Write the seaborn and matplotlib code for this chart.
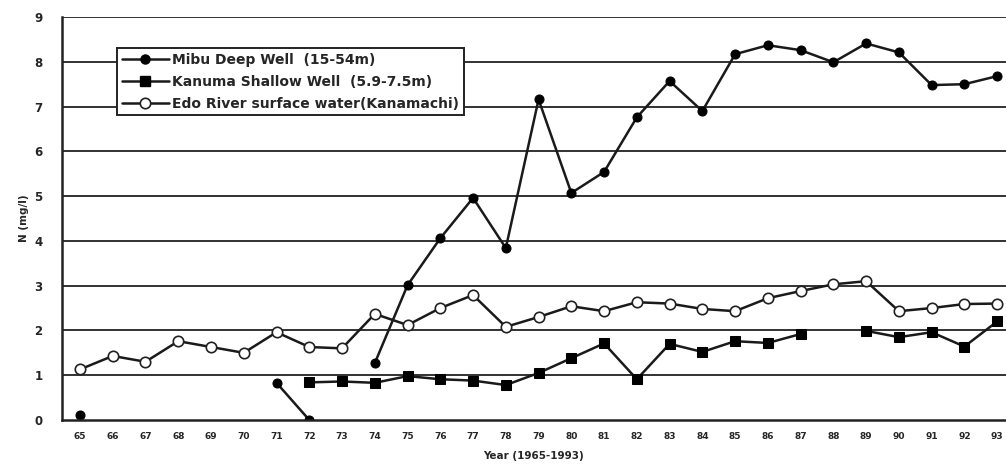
import numpy as np
import matplotlib
matplotlib.use("Agg")
import matplotlib.pyplot as plt
import seaborn as sns

years = list(range(65, 94))
nan = np.nan

mibu = [0.12, nan, nan, nan, nan, nan, 0.83, 0.0, nan, 1.27,
        3.01, 4.06, 4.96, 3.84, 7.16, 5.07, 5.54, 6.76, 7.57, 6.9,
        8.17, 8.37, 8.26, 7.99, 8.41, 8.21, 7.48, 7.5, 7.68]
kanuma = [nan, nan, nan, nan, nan, nan, nan, 0.84, 0.86, 0.83,
          0.98, 0.91, 0.88, 0.78, 1.05, 1.38, 1.71, 0.91, 1.7, 1.52,
          1.76, 1.72, 1.92, nan, 1.99, 1.85, 1.96, 1.64, 2.2]
edo = [1.13, 1.43, 1.3, 1.76, 1.63, 1.5, 1.96, 1.63, 1.6, 2.37,
       2.12, 2.5, 2.79, 2.08, 2.3, 2.54, 2.43, 2.63, 2.6, 2.48,
       2.43, 2.72, 2.88, 3.03, 3.1, 2.43, 2.5, 2.59, 2.6]

labels = ["Mibu Deep Well  (15-54m)",
          "Kanuma Shallow Well  (5.9-7.5m)",
          "Edo River surface water(Kanamachi)"]

sns.set_style("white")
plt.rcParams['font.family'] = ['DejaVu Sans']

fig = plt.figure(figsize=(10.06, 4.68), dpi=100)
ax = fig.add_axes([0.0616, 0.1026, 0.9384, 0.861])


def segments(xs, ys):
    # split series at missing values so the line breaks like the original
    seg_x, seg_y = [], []
    out = []
    for x, y in zip(xs, ys):
        if np.isnan(y):
            if seg_x:
                out.append((seg_x, seg_y))
            seg_x, seg_y = [], []
        else:
            seg_x.append(x)
            seg_y.append(y)
    if seg_x:
        out.append((seg_x, seg_y))
    return out


styles = [
    dict(marker="o", markersize=6.5, markerfacecolor="black", markeredgecolor="black"),
    dict(marker="s", markersize=7, markerfacecolor="black", markeredgecolor="black"),
    dict(marker="o", markersize=7.5, markerfacecolor="white", markeredgecolor="#222222",
         markeredgewidth=1.2),
]

# Edo first so the wells sit on top
for series, st, lab in [(edo, styles[2], labels[2]),
                        (kanuma, styles[1], labels[1]),
                        (mibu, styles[0], labels[0])]:
    for sx, sy in segments(years, series):
        sns.lineplot(x=sx, y=sy, ax=ax, color="#1a1a1a", linewidth=1.8,
                     legend=False, **st)

ax.set_xlim(64.45, 93.27)
ax.set_ylim(0, 9)
ax.set_yticks(range(0, 10))
ax.set_yticklabels([str(v) for v in range(0, 10)], fontsize=8.5, fontweight="bold")
ax.set_xticks(years)
ax.set_xticklabels([str(y) for y in years], fontsize=6.5, fontweight="bold")
ax.set_xticks([y + 0.5 for y in years[:-1]], minor=True)
ax.tick_params(axis="x", which="major", length=0, pad=9)
ax.tick_params(axis="x", which="minor", direction="in", length=3, width=1, color="#333333")
ax.tick_params(axis="y", length=0, pad=14)

for yv in range(1, 10):
    ax.axhline(yv, color="#222222", linewidth=1.3, zorder=0)

for side in ["top", "right"]:
    ax.spines[side].set_visible(False)
for side in ["left", "bottom"]:
    ax.spines[side].set_color("#222222")
    ax.spines[side].set_linewidth(1.8)

ax.set_xlabel("Year (1965-1993)", fontsize=7.5, fontweight="bold", labelpad=7)
ax.set_ylabel("N (mg/l)", fontsize=7.5, fontweight="bold", labelpad=4)

handles = [plt.Line2D([], [], color="#1a1a1a", linewidth=1.8, **styles[i]) for i in range(3)]
leg = ax.legend(handles, labels, loc="upper left", bbox_to_anchor=(0.058, 0.922),
                prop=dict(size=10, weight="bold"), frameon=True, fancybox=False,
                handlelength=3.4, handletextpad=0.25, borderpad=0.35, labelspacing=0.55,
                borderaxespad=0)
leg.get_frame().set_edgecolor("#222222")
leg.get_frame().set_linewidth(1.4)
leg.get_frame().set_alpha(1)
leg.set_zorder(5)

fig.savefig("out.png", dpi=100)
